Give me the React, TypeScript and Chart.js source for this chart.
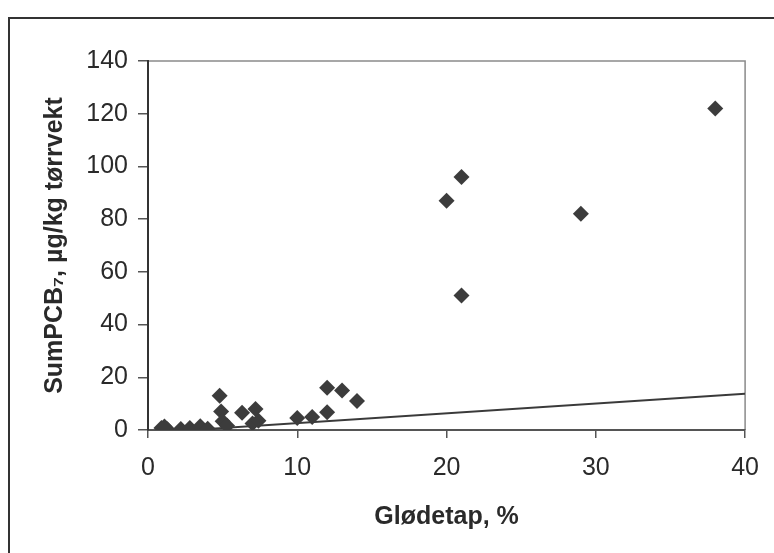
import React, { useEffect, useRef } from "react";
import { Chart, registerables } from "chart.js";

Chart.register(...registerables);

// Glødetap (%) and SumPCB7 (µg/kg tørrvekt)
const glodetap = [0.9, 1.3, 1.1, 2.2, 2.8, 3.5, 4.0, 4.8, 4.9, 5.0, 5.3, 6.3, 7.2, 7.0, 7.4, 10, 11, 12, 12, 13, 14, 20, 21, 21, 29, 38];
const sumPCB7 = [0.8, 0.3, 1.3, 0.4, 0.8, 1.4, 0.5, 13, 7, 3.3, 1.6, 6.5, 8, 2.5, 3.5, 4.6, 4.9, 6.7, 16, 15, 11, 87, 96, 51, 82, 122];

// straight reference line
const lineX = [3.5, 40];
const lineY = [0.2, 13.8];

const xMin = 0, xMax = 40, xStep = 10;
const yMin = 0, yMax = 140, yStep = 20;

const xTitle = "Glødetap, %";
const yTitle = "SumPCB₇, µg/kg tørrvekt";

const FONT = "'Liberation Sans', Arial, sans-serif";

const framePlugin = {
  id: "frame",
  beforeDraw(chart: any) {
    const { ctx, chartArea } = chart;
    ctx.save();
    ctx.fillStyle = "#ffffff";
    ctx.fillRect(0, 0, chart.width, chart.height);
    // outer frame (top and left)
    ctx.strokeStyle = "#333333";
    ctx.lineWidth = 2;
    ctx.beginPath();
    ctx.moveTo(9, chart.height);
    ctx.lineTo(9, 18);
    ctx.lineTo(chart.width, 18);
    ctx.stroke();
    // plot area top / right border
    ctx.strokeStyle = "#8a8a8a";
    ctx.lineWidth = 1.5;
    ctx.beginPath();
    ctx.moveTo(chartArea.left, chartArea.top);
    ctx.lineTo(chartArea.right, chartArea.top);
    ctx.lineTo(chartArea.right, chartArea.bottom);
    ctx.stroke();
    ctx.restore();
  },
};

export default function App() {
  const ref = useRef<HTMLCanvasElement | null>(null);

  useEffect(() => {
    if (!ref.current) return;
    const points = glodetap.map((x, i) => ({ x, y: sumPCB7[i] }));
    const line = lineX.map((x, i) => ({ x, y: lineY[i] }));
    const chart = new Chart(ref.current, {
      type: "scatter",
      data: {
        datasets: [
          {
            type: "line",
            data: line,
            borderColor: "#3a3a3a",
            borderWidth: 2,
            pointRadius: 0,
            fill: false,
            order: 2,
          } as any,
          {
            data: points,
            pointStyle: "rectRot",
            pointRadius: 8,
            pointBackgroundColor: "#3c3c3c",
            pointBorderColor: "#3c3c3c",
            pointBorderWidth: 0,
            order: 1,
          },
        ],
      },
      options: {
        responsive: false,
        animation: false,
        layout: { padding: { left: 0, right: 28, top: 61, bottom: 0 } },
        plugins: {
          legend: { display: false },
          tooltip: { enabled: false },
          title: { display: false },
        },
        scales: {
          x: {
            type: "linear",
            min: xMin,
            max: xMax,
            ticks: {
              stepSize: xStep,
              padding: 15,
              color: "#2a2a2a",
              font: { family: FONT, size: 25 },
            },
            grid: { drawOnChartArea: false, drawTicks: true, tickLength: 8, color: "#555555", lineWidth: 1.5 },
            border: { display: true, color: "#555555", width: 2 },
            title: {
              display: true,
              text: xTitle,
              color: "#2a2a2a",
              font: { family: FONT, size: 25, weight: "bold" },
              padding: { top: 0, bottom: 21 },
            },
            afterFit: (s: any) => {
              s.height = 123;
            },
          },
          y: {
            type: "linear",
            min: yMin,
            max: yMax,
            ticks: {
              stepSize: yStep,
              padding: 10,
              color: "#2a2a2a",
              font: { family: FONT, size: 25 },
            },
            grid: { drawOnChartArea: false, drawTicks: true, tickLength: 10, color: "#555555", lineWidth: 1.5 },
            border: { display: true, color: "#333333", width: 2 },
            title: {
              display: true,
              text: yTitle,
              color: "#2a2a2a",
              font: { family: FONT, size: 25, weight: "bold" },
              padding: { top: 40, bottom: 0 },
            },
            afterFit: (s: any) => {
              s.width = 148;
            },
          },
        },
      },
      plugins: [framePlugin],
    });
    return () => chart.destroy();
  }, []);

  return (
    <div style={{ position: "fixed", left: 0, top: 0, width: 774, height: 553, background: "#fff" }}>
      <canvas ref={ref} width={774} height={553} style={{ width: 774, height: 553, display: "block" }} />
    </div>
  );
}
